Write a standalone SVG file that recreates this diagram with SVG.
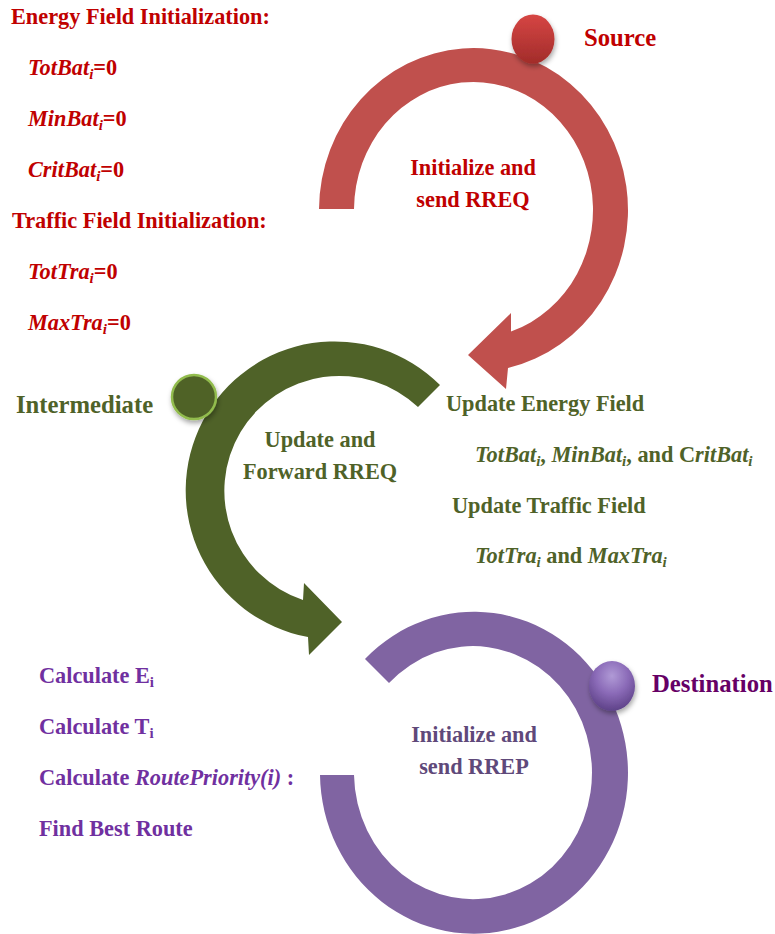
<svg xmlns="http://www.w3.org/2000/svg" width="775" height="934" viewBox="0 0 775 934">
<style>
text{font-family:"Liberation Serif","Times New Roman",serif;font-weight:bold;font-size:22.3px}
.lbl{font-size:24.7px}
.it{font-style:italic}
.red{fill:#C00000}
.grn{fill:#4F6228}
.pur{fill:#7030A0}
.mid{text-anchor:middle}
</style>
<defs>
<filter id="sh" x="-50%" y="-50%" width="200%" height="200%">
<feDropShadow dx="1" dy="3" stdDeviation="2.5" flood-color="#000" flood-opacity="0.35"/>
</filter>
<linearGradient id="gRed" x1="0" y1="0" x2="0" y2="1">
<stop offset="0" stop-color="#D64644"/>
<stop offset="1" stop-color="#A22C2A"/>
</linearGradient>
<radialGradient id="gPur" cx="0.5" cy="0.3" r="0.7">
<stop offset="0" stop-color="#B09AD6"/>
<stop offset="0.5" stop-color="#8B6BB8"/>
<stop offset="1" stop-color="#5E4288"/>
</radialGradient>
</defs>

<g id="connectors">
<path id="arc-red" fill="#C0504D" d="M319,209 A154.5,162 0 1 1 508,368 L506,389 L468,355 L511,313 L511,331.5 A119.5,128 0 1 0 354,209 Z"/>
<path id="arc-green" fill="#4F6228" d="M440,385 A149,149 0 1 0 308,637 L309,655 L342,622 L304,583 L303,600 A115,115 0 1 1 418,407 Z"/>
<path id="arc-purple" fill="#8064A2" d="M365,659 A154,161 0 1 1 320,775 L354,775 A119,126.5 0 1 0 389,683 Z"/>
</g>

<g id="source">
<ellipse cx="533" cy="39" rx="21.5" ry="24.5" fill="url(#gRed)" filter="url(#sh)"/>
<text class="lbl red" x="584" y="46">Source</text>
<text class="red mid" x="473" y="175">Initialize and</text>
<text class="red mid" x="473" y="207">send RREQ</text>
</g>

<g id="init-fields">
<text class="red" x="11" y="24">Energy Field Initialization:</text>
<text class="red" x="28" y="75"><tspan class="it">TotBat</tspan><tspan class="it" font-size="15" dy="4">i</tspan><tspan dy="-4">=0</tspan></text>
<text class="red" x="28" y="126"><tspan class="it">MinBat</tspan><tspan class="it" font-size="15" dy="4">i</tspan><tspan dy="-4">=0</tspan></text>
<text class="red" x="28" y="177"><tspan class="it">CritBat</tspan><tspan class="it" font-size="15" dy="4">i</tspan><tspan dy="-4">=0</tspan></text>
<text class="red" x="12" y="228">Traffic Field Initialization:</text>
<text class="red" x="28" y="279"><tspan class="it">TotTra</tspan><tspan class="it" font-size="15" dy="4">i</tspan><tspan dy="-4">=0</tspan></text>
<text class="red" x="28" y="330"><tspan class="it">MaxTra</tspan><tspan class="it" font-size="15" dy="4">i</tspan><tspan dy="-4">=0</tspan></text>
</g>

<g id="intermediate">
<circle cx="194" cy="397" r="22" fill="#4F6228" stroke="#92BC4E" stroke-width="2.5" filter="url(#sh)"/>
<text class="lbl grn" x="16" y="413">Intermediate</text>
<text class="grn mid" x="320" y="447">Update and</text>
<text class="grn mid" x="320" y="479">Forward RREQ</text>
</g>

<g id="update-fields">
<text class="grn" x="446" y="411">Update Energy Field</text>
<text class="grn" x="475" y="462"><tspan class="it">TotBat</tspan><tspan class="it" font-size="15" dy="4">i</tspan><tspan dy="-4">, </tspan><tspan class="it">MinBat</tspan><tspan class="it" font-size="15" dy="4">i</tspan><tspan dy="-4">, and C</tspan><tspan class="it">ritBat</tspan><tspan class="it" font-size="15" dy="4">i</tspan></text>
<text class="grn" x="452" y="513">Update Traffic Field</text>
<text class="grn" x="475" y="563"><tspan class="it">TotTra</tspan><tspan class="it" font-size="15" dy="4">i</tspan><tspan dy="-4"> and </tspan><tspan class="it">MaxTra</tspan><tspan class="it" font-size="15" dy="4">i</tspan></text>
</g>

<g id="destination">
<ellipse cx="612" cy="686" rx="23" ry="25" fill="url(#gPur)" filter="url(#sh)"/>
<text class="lbl" x="652" y="692" fill="#660066">Destination</text>
<text class="mid" x="474" y="742" fill="#5F497A">Initialize and</text>
<text class="mid" x="474" y="774" fill="#5F497A">send RREP</text>
</g>

<g id="route-calc">
<text class="pur" x="39" y="683">Calculate E<tspan font-size="15" dy="4">i</tspan></text>
<text class="pur" x="39" y="734">Calculate T<tspan font-size="15" dy="4">i</tspan></text>
<text class="pur" x="39" y="785">Calculate <tspan class="it">RoutePriority(i)</tspan> :</text>
<text class="pur" x="39" y="836">Find Best Route</text>
</g>
</svg>
